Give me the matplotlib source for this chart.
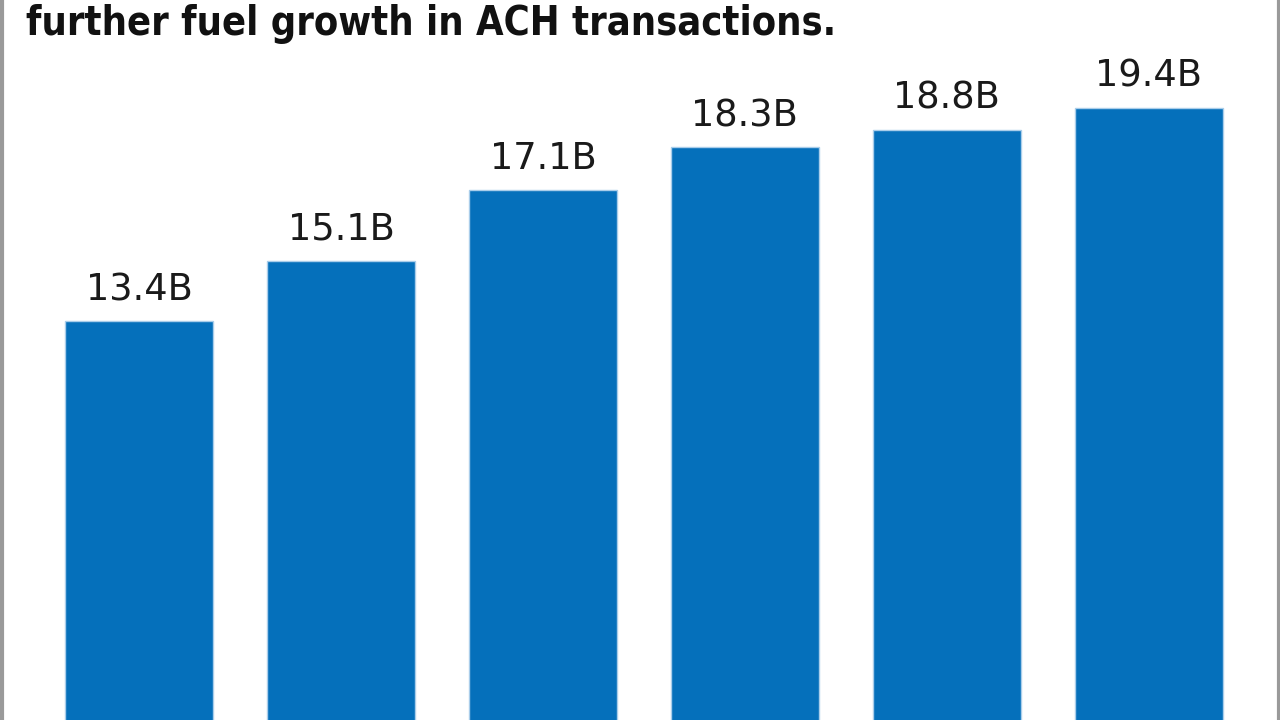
import numpy as np
import matplotlib.pyplot as plt

values = [13.4, 15.1, 17.1, 18.3, 18.8, 19.4]
labels = ['13.4B', '15.1B', '17.1B', '18.3B', '18.8B', '19.4B']
title = 'further fuel growth in ACH transactions.'

fig = plt.figure(figsize=(12.8, 7.2), dpi=100)
ax = fig.add_axes([0, 0, 1, 1])

x = np.arange(len(values))
ax.bar(x, values, width=0.733, color='#0570bb', edgecolor='#a9cdea', linewidth=1.0)

for xi, v, lab in zip(x, values, labels):
    ax.text(xi, v + 0.6, lab, ha='center', va='baseline', fontsize=26.5,
            family='DejaVu Sans', color='#1a1a1a')

ax.set_xlim(-0.688, 5.649)
ax.set_ylim(2.17, 22.45)
ax.axis('off')

fig.text(26 / 1280, 1 - 35 / 720, title, ha='left', va='baseline', fontsize=28.5,
         fontweight='bold', fontstretch='condensed', family='DejaVu Sans',
         color='#111111')

# grey frame edges
fig.add_artist(plt.Line2D([1.5 / 1280, 1.5 / 1280], [0, 1], color='#9a9a9a', lw=3))
fig.add_artist(plt.Line2D([1 - 1.5 / 1280, 1 - 1.5 / 1280], [0, 1], color='#9a9a9a', lw=3))

fig.savefig('out.png', dpi=100)
